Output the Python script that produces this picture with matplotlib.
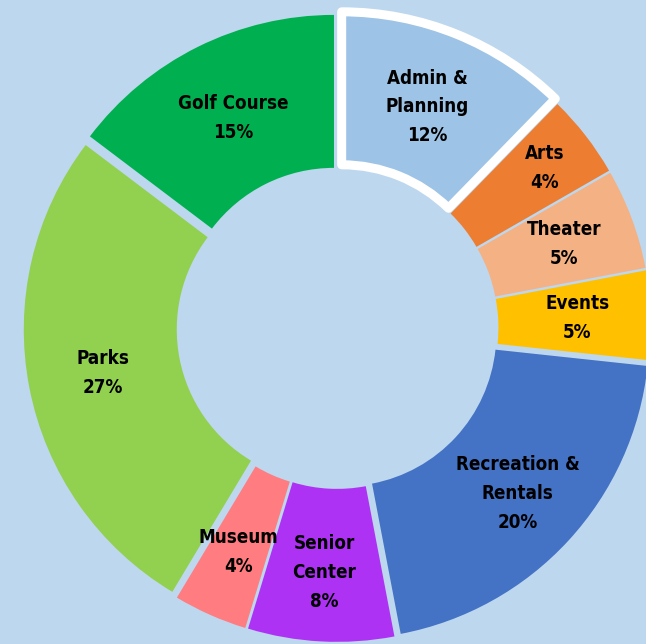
import matplotlib.pyplot as plt
from matplotlib.patches import Wedge
import numpy as np

# budget shares, clockwise from 12 o'clock
categories = ["Admin &\nPlanning", "Arts", "Theater", "Events", "Recreation &\nRentals",
              "Senior\nCenter", "Museum", "Parks", "Golf Course"]
shares = [12.3, 4.4, 5.3, 4.7, 20.3, 7.7, 3.9, 26.7, 14.7]
colors = ["#9DC3E6", "#ED7D31", "#F4B183", "#FFC000", "#4472C4",
          "#AE32F4", "#FF7C80", "#92D050", "#00B050"]

bg = "#BDD7EE"
outer = 1.0
inner = 0.5
explode = [0.036, 0.026, 0.026, 0.026, 0.026, 0.026, 0.026, 0.026, 0.026]
# label distance from centre (Excel nudges a couple of them)
label_r = [0.78, 0.855, 0.79, 0.785, 0.80, 0.80, 0.80, 0.78, 0.765]

plt.rcParams['font.family'] = ['DejaVu Sans']

fig = plt.figure(figsize=(6.46, 6.44), dpi=100)
fig.patch.set_facecolor(bg)
ax = fig.add_axes([0, 0, 1, 1])
ax.set_facecolor(bg)
ax.set_xlim(-1.103, 1.008)
ax.set_ylim(-1.033, 1.072)
ax.set_aspect('equal')
ax.axis('off')

total = sum(shares)
start = 0.0
order = list(range(1, len(shares))) + [0]  # admin slice drawn last
geo = []
for v in shares:
    a0 = start / total * 360
    a1 = (start + v) / total * 360
    geo.append((a0, a1))
    start += v

for i in order:
    a0, a1 = geo[i]
    mid = np.radians((a0 + a1) / 2)
    dx = explode[i] * np.sin(mid)
    dy = explode[i] * np.cos(mid)
    if i == 0:
        ec, lw = "white", 6.5
    else:
        ec, lw = "none", 0
    w = Wedge((dx, dy), outer, 90 - a1, 90 - a0, width=outer - inner,
              facecolor=colors[i], edgecolor=ec, linewidth=lw, joinstyle='round')
    ax.add_patch(w)

for i in range(len(shares)):
    a0, a1 = geo[i]
    mid = np.radians((a0 + a1) / 2)
    rl = label_r[i]
    pct = round(shares[i] / total * 100)
    ax.text(rl * np.sin(mid), rl * np.cos(mid), f"{categories[i]}\n{pct}%",
            ha='center', va='center', multialignment='center',
            fontsize=13.5, fontweight='bold', fontstretch='condensed',
            color='black', linespacing=1.66)

plt.savefig("out.png", dpi=100, facecolor=bg)
